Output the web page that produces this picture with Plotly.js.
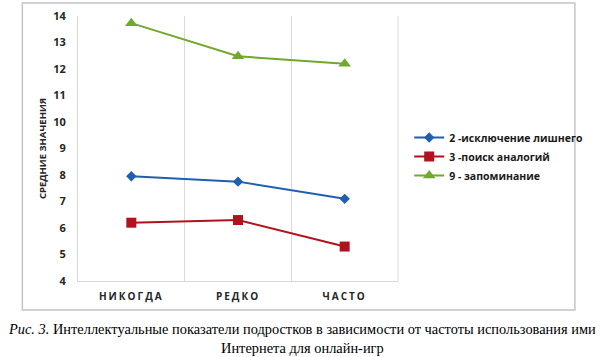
<!DOCTYPE html>
<html>
<head>
<meta charset="utf-8">
<script src="https://cdn.plot.ly/plotly-3.0.1.min.js"></script>
<style>
  html, body { margin: 0; padding: 0; background: #fff; }
  #chart { width: 600px; height: 357px; }
  .xtick text { letter-spacing: 2px; }
</style>
</head>
<body>
<div id="chart"></div>
<script>
const categories = ["НИКОГДА", "РЕДКО", "ЧАСТО"];
const seriesNames = ["2 -исключение лишнего", "3 -поиск аналогий", "9 - запоминание"];
const values2 = [7.95, 7.75, 7.1];
const values3 = [6.2, 6.3, 5.3];
const values9 = [13.73, 12.48, 12.2];
const yTicks = [4, 5, 6, 7, 8, 9, 10, 11, 12, 13, 14];
const yTitle = "СРЕДНИЕ ЗНАЧЕНИЯ";
const caption = "<i>Рис. 3.</i> Интеллектуальные показатели подростков в зависимости от частоты использования ими<br>Интернета для онлайн-игр";

const colors = ["#1f5faf", "#b0131e", "#72a82c"];
const symbols = ["diamond", "square", "triangle-up"];
const sizes = [8, 10, 11];
const series = [values2, values3, values9];

const traces = series.map((vals, i) => ({
  type: "scatter",
  mode: "lines+markers",
  x: categories,
  y: vals,
  name: seriesNames[i],
  line: { color: colors[i], width: 2 },
  marker: { color: colors[i], symbol: symbols[i], size: sizes[i] }
}));

const sans = "'Open Sans', 'DejaVu Sans', sans-serif";
const tickFont = { family: sans, size: 11, color: "#262626", weight: "bold" };

const layout = {
  width: 600,
  height: 357,
  margin: { l: 78, r: 200, t: 16, b: 76 },
  paper_bgcolor: "#ffffff",
  plot_bgcolor: "#ffffff",
  showlegend: true,
  legend: {
    x: 1.035, xanchor: "left",
    y: 0.47, yanchor: "middle",
    font: { family: sans, size: 10.5, color: "#1a1a1a", weight: "bold" },
    bgcolor: "rgba(0,0,0,0)",
    tracegroupgap: 0
  },
  xaxis: {
    type: "category",
    range: [-0.5, 2.5],
    tickson: "boundaries",
    showgrid: true,
    gridcolor: "#d9d9d9",
    gridwidth: 1,
    showline: true,
    linecolor: "#d9d9d9",
    linewidth: 1,
    ticks: "",
    zeroline: false,
    tickfont: { family: sans, size: 10, color: "#262626", weight: "bold" },
    ticklabelstandoff: 6,
    fixedrange: true
  },
  yaxis: {
    range: [4, 14],
    tickvals: yTicks,
    showgrid: false,
    zeroline: false,
    showline: true,
    linecolor: "#d9d9d9",
    linewidth: 1,
    ticks: "",
    tickfont: tickFont,
    ticklabelstandoff: 9,
    title: {
      text: yTitle,
      font: { family: sans, size: 9.5, color: "#262626", weight: "bold" },
      standoff: 4
    },
    fixedrange: true
  },
  shapes: [
    {
      type: "line", xref: "paper", yref: "paper",
      x0: 1, x1: 1, y0: 0, y1: 1,
      line: { color: "#d9d9d9", width: 1 }
    },
    {
      type: "rect", xref: "paper", yref: "paper",
      x0: (22 - 78) / 322, x1: (578 - 78) / 322,
      y0: (281 - 310) / 265, y1: (281 - 3) / 265,
      line: { color: "#c4c4c4", width: 1.5 },
      fillcolor: "rgba(0,0,0,0)"
    }
  ],
  annotations: [
    {
      text: caption,
      xref: "paper", yref: "paper",
      x: (303 - 78) / 322, y: (281 - 338) / 265,
      xanchor: "center", yanchor: "middle",
      showarrow: false,
      align: "center",
      font: { family: "'Liberation Serif', serif", size: 14.4, color: "#000" }
    }
  ]
};

Plotly.newPlot("chart", traces, layout, { displayModeBar: false, staticPlot: true });
</script>
</body>
</html>
